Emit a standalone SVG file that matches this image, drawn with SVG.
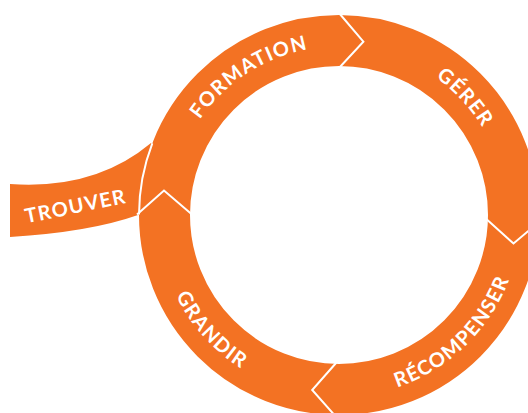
<svg xmlns="http://www.w3.org/2000/svg" width="528" height="413" viewBox="0 0 528 413">
<defs>
<style>
.or{fill:#F37223}
.ring{fill:none;stroke:#F37223;stroke-width:51}
.cut{fill:none;stroke:#fff;stroke-width:2;stroke-linejoin:miter}
.t{font-family:Lato,"Open Sans",sans-serif;font-weight:700;font-size:20px;fill:#fff;letter-spacing:1.3px}
</style>
<path id="pF" d="M173.06,185.75 A168,168 0 0 1 379.76,51.51"/>
<path id="pG" d="M339,47 A168,168 0 0 1 506.6,226.7"/>
<path id="pR" d="M329.5,396.75 A182,182 0 0 0 521,211.8"/>
<path id="pGr" d="M157.7,199.1 A182,182 0 0 0 335.8,397"/>
</defs>
<g id="trouver">
<path class="or" d="M10,184 Q95,190 151,143 L170,160 L160,215 L138,215 Q90,232 10,237 Z"/>
</g>
<g id="ring">
<circle class="ring" cx="339" cy="215" r="174.5"/>
</g>
<g id="connectors">
<path class="cut" d="M152.3,143.3 A200,200 0 0 0 139,214.5"/>
<polyline class="cut" points="339,13 363.4,41.7 339,68"/>
<polyline class="cut" points="486,218.8 513.5,243.5 541,220.3"/>
<polyline class="cut" points="336.9,362 312.2,390 336.2,417"/>
<polyline class="cut" points="137,214.5 164,190.5 192,214.5"/>
</g>
<g id="labels">
<text class="t" transform="translate(77,213) rotate(-11.6)" text-anchor="middle">TROUVER</text>
<text class="t" text-anchor="middle"><textPath href="#pF" startOffset="50%">FORMATION</textPath></text>
<text class="t" text-anchor="middle"><textPath href="#pG" startOffset="50%">GÉRER</textPath></text>
<text class="t" text-anchor="middle"><textPath href="#pR" startOffset="50%">RÉCOMPENSER</textPath></text>
<text class="t" text-anchor="middle"><textPath href="#pGr" startOffset="50%">GRANDIR</textPath></text>
</g>
</svg>
